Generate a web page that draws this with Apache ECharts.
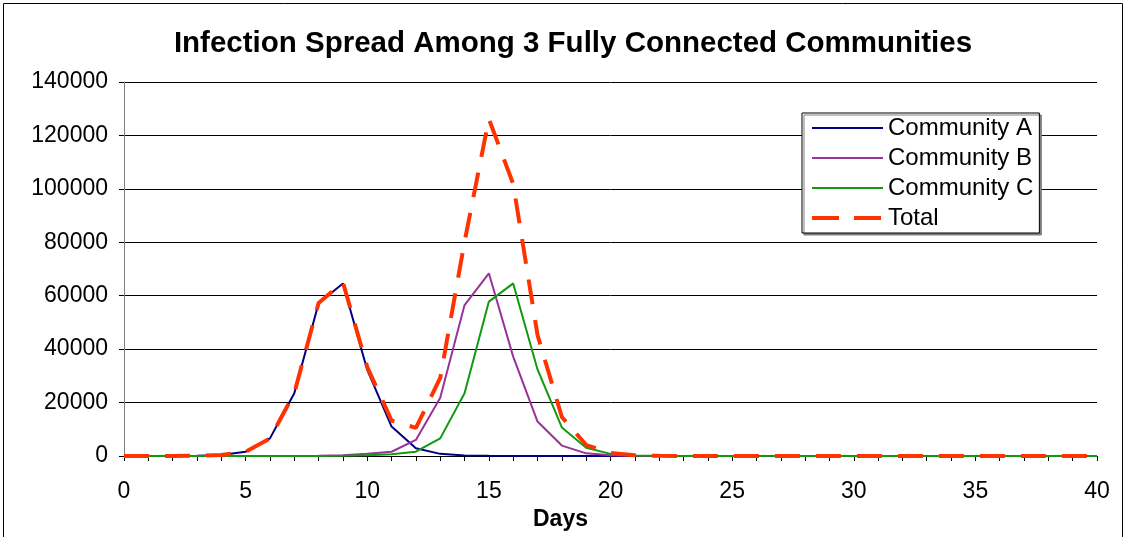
<!DOCTYPE html>
<html><head><meta charset="utf-8">
<script src="https://cdn.jsdelivr.net/npm/echarts@6/dist/echarts.min.js"></script>
<style>html,body{margin:0;padding:0;background:#fff}#c{width:1127px;height:537px}</style>
</head><body><div id="c"></div>
<script>
const days = [0,1,2,3,4,5,6,7,8,9,10,11,12,13,14,15,16,17,18,19,20,21,22,23,24,25,26,27,28,29,30,31,32,33,34,35,36,37,38,39,40];
const communityA = [0,10,30,100,400,1600,6600,23500,57200,64600,32200,11000,2900,800,200,50,0,0,0,0,0,0,0,0,0,0,0,0,0,0,0,0,0,0,0,0,0,0,0,0,0];
const communityB = [0,0,0,0,0,0,0,20,100,300,800,1600,6000,21800,56500,68400,37200,12900,3900,1000,300,50,0,0,0,0,0,0,0,0,0,0,0,0,0,0,0,0,0,0,0];
const communityC = [0,0,0,0,0,0,0,0,20,100,300,700,1600,6600,23500,57800,64600,32400,10700,3100,800,200,50,0,0,0,0,0,0,0,0,0,0,0,0,0,0,0,0,0,0];
const total = [0,10,30,100,400,1600,6600,23500,57300,65000,33300,13300,10500,29200,80200,126200,101800,45300,14600,4100,1100,250,50,0,0,0,0,0,0,0,0,0,0,0,0,0,0,0,0,0,0];
const yTicks = [0,20000,40000,60000,80000,100000,120000,140000];
const xTicks = [0,5,10,15,20,25,30,35,40];
const seriesNames = ['Community A','Community B','Community C','Total'];

const pair = arr => days.map((d,i)=>[d,arr[i]]);
const font = '"Liberation Sans", Arial, sans-serif';
const colors = ['#000080','#993399','#119911','#ff3300'];
const chart = echarts.init(document.getElementById('c'));
chart.setOption({
  animation:false,
  backgroundColor:'#fff',
  title:{text:'Infection Spread Among 3 Fully Connected Communities',left:568,top:24,textAlign:'center',
    textStyle:{fontFamily:font,fontSize:29.5,fontWeight:'bold',color:'#000'}},
  graphic:[{type:'rect',shape:{x:3.5,y:3.5,width:1119,height:560},style:{fill:'none',stroke:'#000',lineWidth:1},silent:true}],
  grid:{left:124,right:30,top:82,bottom:81,containLabel:false},
  legend:{orient:'vertical',left:802,top:113,itemWidth:71,itemHeight:24,itemGap:6,
    padding:[3,6,3,8],backgroundColor:'#fff',borderColor:'#000',borderWidth:1,
    shadowColor:'#808080',shadowOffsetX:2,shadowOffsetY:2,shadowBlur:0,
    itemStyle:{opacity:0},
    textStyle:{fontFamily:font,fontSize:24,lineHeight:24,color:'#000'},
    data:[
      {name:seriesNames[0],lineStyle:{width:2}},
      {name:seriesNames[1],lineStyle:{width:2}},
      {name:seriesNames[2],lineStyle:{width:2}},
      {name:seriesNames[3],lineStyle:{width:4,type:[27,15],cap:'butt'}}
    ]},
  xAxis:{type:'value',min:0,max:40,interval:5,
    axisLine:{show:true,lineStyle:{color:'#000',width:1}},
    axisTick:{show:true,length:5,lineStyle:{color:'#000'}},
    minorTick:{show:true,splitNumber:5,length:5,lineStyle:{color:'#000'}},
    splitLine:{show:false},
    axisLabel:{fontFamily:font,fontSize:23,color:'#000',margin:24,customValues:xTicks},
    name:'Days',nameLocation:'middle',nameGap:48,
    nameTextStyle:{fontFamily:font,fontSize:23,fontWeight:'bold',color:'#000',padding:[0,100,0,0]}},
  yAxis:{type:'value',min:0,max:140000,interval:20000,
    axisLine:{show:true,lineStyle:{color:'#808080',width:1}},
    axisTick:{show:true,length:5,lineStyle:{color:'#000'}},
    splitLine:{show:true,lineStyle:{color:'#000',width:1}},
    axisLabel:{fontFamily:font,fontSize:23,color:'#000',margin:16,customValues:yTicks,formatter:v=>String(v)}},
  series:[
    {name:seriesNames[0],type:'line',data:pair(communityA),symbol:'none',lineStyle:{color:colors[0],width:2},itemStyle:{color:colors[0]},z:2},
    {name:seriesNames[1],type:'line',data:pair(communityB),symbol:'none',lineStyle:{color:colors[1],width:2},itemStyle:{color:colors[1]},z:3},
    {name:seriesNames[2],type:'line',data:pair(communityC),symbol:'none',lineStyle:{color:colors[2],width:2},itemStyle:{color:colors[2]},z:4},
    {name:seriesNames[3],type:'line',data:pair(total),symbol:'none',lineStyle:{color:colors[3],width:4,type:[25,16],cap:'butt'},itemStyle:{color:colors[3]},z:5}
  ]
});
</script></body></html>
